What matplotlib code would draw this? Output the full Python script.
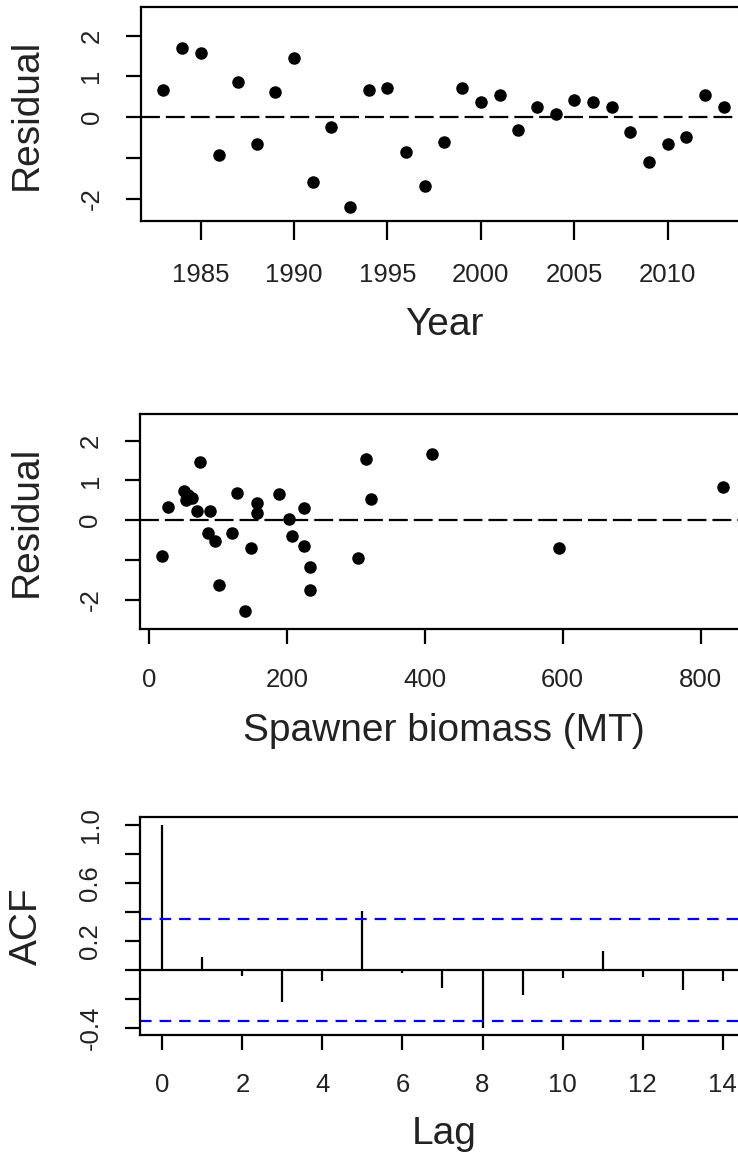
import numpy as np
import matplotlib
matplotlib.use("Agg")
import matplotlib.pyplot as plt
from matplotlib.transforms import Affine2D

plt.rcParams['font.family'] = ['Liberation Sans', 'DejaVu Sans']

# --- datos ---
years = list(range(1983, 2014))
resid_year = [0.66, 1.69, 1.58, -0.92, 0.85, -0.67, 0.61, 1.46, -1.59, -0.25,
              -2.20, 0.66, 0.72, -0.86, -1.69, -0.61, 0.72, 0.38, 0.54, -0.32,
              0.24, 0.07, 0.42, 0.38, 0.24, -0.36, -1.10, -0.67, -0.48, 0.54,
              0.24]

biomass = [19, 27, 51, 54, 57, 62, 69, 74, 85, 88,
           96, 102, 120, 127, 139, 148, 156, 156, 189, 203,
           208, 224, 224, 233, 233, 303, 314, 322, 411, 595,
           832]
resid_sb = [-0.89, 0.34, 0.74, 0.51, 0.64, 0.55, 0.24, 1.47, -0.31, 0.24,
            -0.52, -1.63, -0.33, 0.68, -2.27, -0.69, 0.44, 0.18, 0.66, 0.03,
            -0.39, 0.30, -0.65, -1.18, -1.75, -0.95, 1.53, 0.54, 1.66, -0.70,
            0.84]

lags = list(range(0, 15))
acf_vals = [1.0, 0.092, -0.04, -0.22, -0.074, 0.407, -0.023, -0.126, -0.40,
            -0.17, -0.053, 0.133, -0.05, -0.138, -0.076]
ci = 0.352

year_ticks = [1985, 1990, 1995, 2000, 2005, 2010]
sb_ticks = [0, 200, 400, 600, 800]
lag_ticks = [0, 2, 4, 6, 8, 10, 12, 14]
resid_ticks = [-2, -1, 0, 1, 2]
resid_ticklabels = ['-2', '', '0', '1', '2']
acf_ticks = [-0.4, -0.2, 0.0, 0.2, 0.4, 0.6, 0.8, 1.0]
acf_ticklabels = ['-0.4', '', '', '0.2', '', '0.6', '', '1.0']

W, H = 738, 1161
fig = plt.figure(figsize=(W / 100, H / 100), dpi=100)
px = Affine2D().scale(1 / W, -1 / H).translate(0, 1) + fig.transFigure


def caja(x0, y0, x1, y1):  # caja en pixeles -> fraccion de figura
    return [x0 / W, 1 - y1 / H, (x1 - x0) / W, (y1 - y0) / H]


def estilo(ax, xlab, ylab, xlab_y, xlen, xpad):
    for s in ax.spines.values():
        s.set_linewidth(1.6)
        s.set_color('black')
    ax.tick_params(axis='x', length=xlen, width=1.6, labelsize=18.5, pad=xpad,
                   colors='black', labelcolor='#222222')
    ax.tick_params(axis='y', length=11, width=1.6, labelsize=18.5, pad=16,
                   colors='black', labelcolor='#222222', labelrotation=90)
    for t in ax.get_yticklabels():
        t.set_va('center')
    ax.set_xlabel(xlab, fontsize=28, color='#222222', va='center')
    ax.set_ylabel(ylab, fontsize=28, color='#222222', va='center')
    ax.xaxis.set_label_coords(444, xlab_y, transform=px)
    # centrar el ylabel en vertical sobre el eje
    bb = ax.get_position()
    yc = (1 - (bb.y0 + bb.height / 2)) * H
    ax.yaxis.set_label_coords(27, yc, transform=px)


# --- Panel 1: residuales vs año ---
ax1 = fig.add_axes(caja(141, 7, 746, 221))
ax1.plot(years, resid_year, 'o', color='black', markersize=8)
ax1.axhline(0, color='black', lw=1.6, dashes=(8.5, 2.7))
ax1.set_xlim(1981.8, 2014.2)
ax1.set_ylim(-2.55, 2.7)
ax1.set_xticks(year_ticks)
ax1.set_yticks(resid_ticks)
ax1.set_yticklabels(resid_ticklabels)
estilo(ax1, 'Year', 'Residual', 325, 14, 16.5)

# --- Panel 2: residuales vs biomasa ---
ax2 = fig.add_axes(caja(140, 414, 745, 629))
ax2.plot(biomass, resid_sb, 'o', color='black', markersize=8)
ax2.axhline(0, color='black', lw=1.6, dashes=(8.5, 2.7))
ax2.set_xlim(-13.2, 864.5)
ax2.set_ylim(-2.73, 2.67)
ax2.set_xticks(sb_ticks)
ax2.set_yticks(resid_ticks)
ax2.set_yticklabels(resid_ticklabels)
estilo(ax2, 'Spawner biomass (MT)', 'Residual', 731, 11, 17)

# --- Panel 3: ACF ---
ax3 = fig.add_axes(caja(140, 817, 745, 1035))
ax3.vlines(lags, 0, acf_vals, color='black', lw=1.6)
ax3.axhline(0, color='black', lw=1.6)
ax3.axhline(ci, color='blue', lw=1.6, dashes=(5.2, 3.6))
ax3.axhline(-ci, color='blue', lw=1.6, dashes=(5.2, 3.6))
ax3.set_xlim(-0.56, 14.56)
ax3.set_ylim(-0.448, 1.054)
ax3.set_xticks(lag_ticks)
ax3.set_yticks(acf_ticks)
ax3.set_yticklabels(acf_ticklabels)
estilo(ax3, 'Lag', 'ACF', 1134, 11, 16)

fig.savefig('out.png', dpi=100)
